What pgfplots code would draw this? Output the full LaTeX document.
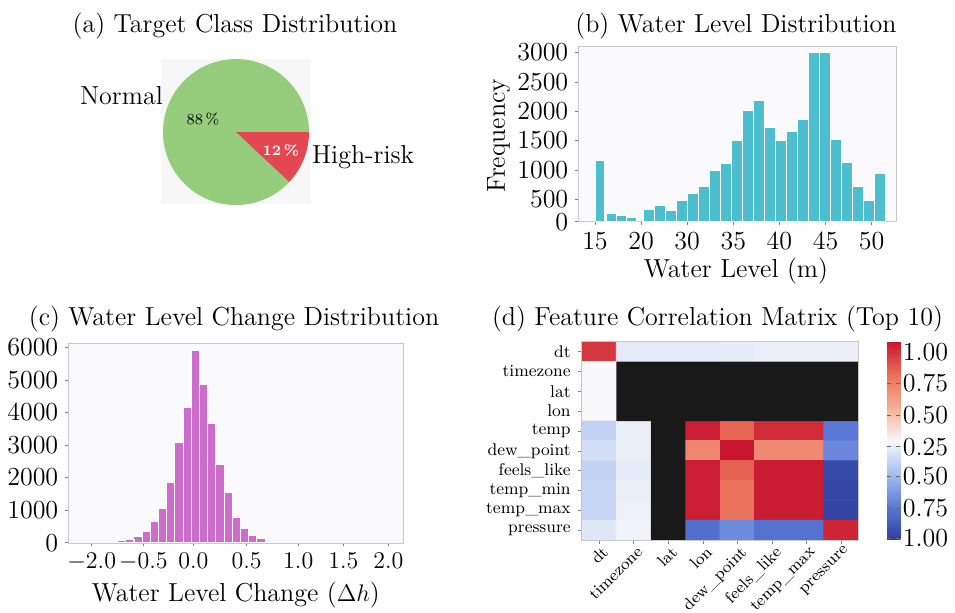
\documentclass[border=0pt]{standalone}
\usepackage{pgfplots}
\pgfplotsset{compat=1.18}
\definecolor{barb}{RGB}{77,190,206}
\definecolor{barc}{RGB}{206,108,206}
\definecolor{piegreen}{RGB}{150,205,125}
\definecolor{piered}{RGB}{227,72,82}
\definecolor{framegray}{RGB}{200,200,200}
\definecolor{bgc}{RGB}{250,250,252}
\newcommand{\fs}{\fontsize{13}{15.6}\selectfont}
\newcommand{\fh}{\fontsize{8.5}{10}\selectfont}
\pgfplotsset{
  panel/.style={anchor=south west, scale only axis,
    axis line style={framegray}, axis background/.style={fill=bgc},
    tick align=outside, major tick length=1.5pt, tick style={black!50},
    xtick pos=lower, ytick pos=left, tick label style={font=\fs}},
}
\begin{document}
\begin{tikzpicture}
\useasboundingbox (0,0) rectangle (477.5pt,306.5pt);

% (a) pie
\def\highrisk{12}
\def\normalpct{88}
\begin{axis}[at={(80.65pt,204.5pt)}, anchor=south west, scale only axis,
  width=74.7pt, height=72.3pt, xmin=-1.023, xmax=1.023, ymin=-0.986, ymax=0.996,
  axis line style={draw=none}, ticks=none, clip=false,
  axis background/.style={fill=black!3}]
  \pgfmathsetmacro{\angN}{360-\highrisk*3.6}
  \pgfmathsetmacro{\angH}{-\highrisk*3.6}
  \fill[piegreen] (axis cs:0,0) -- (axis cs:1,0) arc[start angle=0, end angle=\angN, radius=36.5pt] -- cycle;
  \fill[piered] (axis cs:0,0) -- (axis cs:1,0) arc[start angle=0, end angle=\angH, radius=36.5pt] -- cycle;
  \node[anchor=base east, inner sep=0pt, font=\fs] at (axis cs:-0.996,0.384) {Normal};
  \node[anchor=base west, inner sep=0pt, font=\fs] at (axis cs:1.037,-0.429) {High-risk};
  \node[anchor=base, inner sep=0pt, font=\fontsize{7.7}{9}\selectfont] at (axis cs:-0.452,0.11) {\normalpct\,\%};
  \node[anchor=base, inner sep=0pt, text=white, font=\fontsize{7.2}{9}\selectfont\bfseries] at (axis cs:0.614,-0.315) {\highrisk\,\%};
\end{axis}

% (b) water level distribution
\begin{axis}[panel, at={(289.15pt,195.65pt)}, width=159.1pt, height=87.5pt,
  xmin=13.19, xmax=47.69, ymin=118, ymax=3100,
  xtick={15,20,25,30,35,40,45}, xticklabels={15,20,30,35,40,45,50},
  ytick={118,500,1000,1500,2000,2500,3000}, yticklabels={0,500,1000,1500,2000,2500,3000}]
  \addplot[ybar, bar shift=0pt, bar width=1.05, fill=barb, draw=white, line width=0.5pt]
    coordinates {(15.54,1158) (16.77,261) (17.89,221) (18.98,193)};
  \addplot[ybar, bar shift=0pt, bar width=1.191, fill=barb, draw=white, line width=0.5pt]
    coordinates {(20.84,330) (22.03,391) (23.22,301) (24.41,471) (25.61,602) (26.80,715)
      (27.99,982) (29.18,1101) (30.37,1499) (31.56,2010) (32.75,2175) (33.95,1727)
      (35.14,1499) (36.33,1652) (37.52,1851) (38.71,3005) (39.90,3005) (41.10,1510)
      (42.29,1130) (43.48,715) (44.67,476) (45.86,943)};
\end{axis}

% (c) water level change distribution
\begin{axis}[panel, at={(34.15pt,34.85pt)}, width=167.5pt, height=100pt,
  xmin=-1.209, xmax=2.031, ymin=-20, ymax=6120,
  xtick={-0.983,-0.484,0,0.516,1.015,1.451,1.886},
  xticklabels={$-2.0$,$-0.5$,$0.0$,$0.5$,$1.0$,$1.5$,$2.0$},
  ytick={0,1000,2000,3000,4000,5000,6000}, yticklabels={0,1000,2000,3000,4000,5000,6000}]
  \addplot[ybar, bar shift=0pt, bar width=0.0792, fill=barc, draw=white, line width=0.5pt]
    coordinates {(-0.692,52) (-0.613,90) (-0.534,185) (-0.455,335) (-0.376,645) (-0.296,1040)
      (-0.217,1840) (-0.138,3080) (-0.059,4145) (0.020,5910) (0.099,4860) (0.179,3660)
      (0.258,2410) (0.337,1535) (0.416,775) (0.495,440) (0.574,220) (0.654,130)};
\end{axis}

% (d) correlation matrix
\begin{axis}[at={(290.85pt,36.5pt)}, anchor=south west, scale only axis,
  width=138.3pt, height=99.15pt, xmin=-0.5, xmax=7.5, ymin=-0.5, ymax=9.5, y dir=reverse,
  xtick={0,...,7}, ytick={0,...,9},
  xticklabels={dt,timezone,lat,lon,dew\_point,feels\_like,temp\_max,pressure},
  yticklabels={dt,timezone,lat,lon,temp,dew\_point,feels\_like,temp\_min,temp\_max,pressure},
  tick label style={font=\fh},
  xticklabel style={rotate=45, anchor=north east, inner sep=1pt, xshift=1.5pt,
    font=\fontsize{8.2}{10}\selectfont},
  axis line style={framegray}, tick style={black!50}, tick align=outside, major tick length=2pt,
  xtick pos=lower, ytick pos=left, axis on top,
  colormap={cw}{rgb255=(45,62,158) rgb255=(90,120,215) rgb255=(165,190,240) rgb255=(248,248,250)
    rgb255=(244,175,150) rgb255=(234,112,88) rgb255=(200,22,48)},
  point meta min=-1, point meta max=1,
  colorbar,
  colorbar style={at={(parent axis.north east)}, anchor=north west, xshift=5.85pt,
    scale only axis, width=6.65pt, height=99.15pt,
    ytick={0.899,0.580,0.261,-0.059,-0.361,-0.681,-0.983},
    yticklabels={1.00,0.75,0.50,0.25,0.50,0.75,1.00},
    yticklabel style={font=\fs, inner sep=1pt}, axis line style={draw=none},
    major tick length=2pt, tick style={black!60}}]
  \addplot[matrix plot*, mesh/cols=8, point meta=explicit] table[meta=c] {
x y c
0 0 0.88
1 0 -0.08
2 0 -0.08
3 0 -0.08
4 0 -0.07
5 0 -0.05
6 0 -0.05
7 0 -0.05
0 1 0
1 1 0
2 1 0
3 1 0
4 1 0
5 1 0
6 1 0
7 1 0
0 2 0
1 2 0
2 2 0
3 2 0
4 2 0
5 2 0
6 2 0
7 2 0
0 3 0
1 3 0
2 3 0
3 3 0
4 3 0
5 3 0
6 3 0
7 3 0
0 4 -0.22
1 4 -0.05
2 4 0
3 4 0.97
4 4 0.70
5 4 0.92
6 4 0.92
7 4 -0.67
0 5 -0.15
1 5 -0.05
2 5 0
3 5 0.55
4 5 1.00
5 5 0.53
6 5 0.53
7 5 -0.60
0 6 -0.22
1 6 -0.07
2 6 0
3 6 0.97
4 6 0.72
5 6 0.98
6 6 0.98
7 6 -0.93
0 7 -0.20
1 7 -0.05
2 7 0
3 7 0.97
4 7 0.65
5 7 0.98
6 7 0.98
7 7 -0.95
0 8 -0.20
1 8 -0.04
2 8 0
3 8 0.97
4 8 0.65
5 8 0.98
6 8 0.98
7 8 -0.96
0 9 -0.10
1 9 -0.03
2 9 0
3 9 -0.72
4 9 -0.58
5 9 -0.70
6 9 -0.70
7 9 0.95
};
  \addplot[fill=black!90, draw=none] coordinates {(0.5,0.5) (7.5,0.5) (7.5,3.5) (2.5,3.5)
    (2.5,9.5) (1.5,9.5) (1.5,3.5) (0.5,3.5) (0.5,0.5)};
\end{axis}

% titles and axis labels
\node[anchor=base, font=\fs] at (117.5pt,290.25pt) {(a) Target Class Distribution};
\node[anchor=base, font=\fs] at (368pt,290.4pt) {(b) Water Level Distribution};
\node[anchor=base, font=\fs] at (117pt,143.5pt) {(c) Water Level Change Distribution};
\node[anchor=base, font=\fs] at (358.75pt,143.5pt) {(d) Feature Correlation Matrix (Top 10)};
\node[anchor=base, font=\fs] at (368pt,167.6pt) {Water Level (m)};
\node[anchor=base, rotate=90, font=\fs] at (252.4pt,238.65pt) {Frequency};
\node[anchor=base, font=\fs] at (117.9pt,5.65pt) {Water Level Change ($\Delta h$)};
\end{tikzpicture}
\end{document}
